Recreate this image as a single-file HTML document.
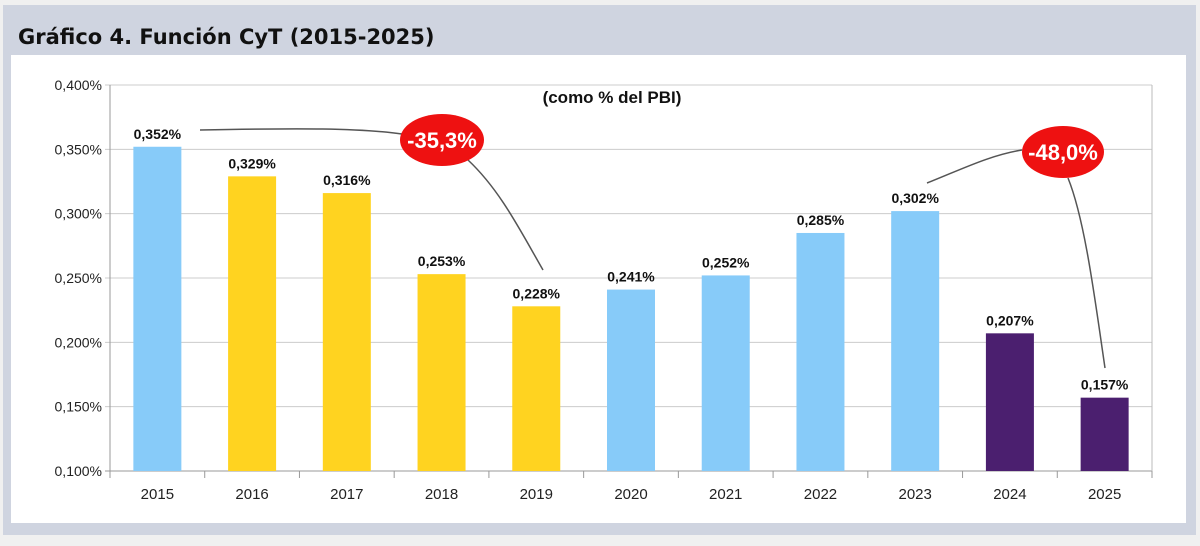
<!DOCTYPE html>
<html><head><meta charset="utf-8"><style>
body{margin:0;width:1200px;height:541px;background:#f0f0f0;overflow:hidden;font-family:"Liberation Sans",Arial,sans-serif}
</style></head><body>
<svg width="1200" height="541">
<rect x="3" y="5" width="1193" height="530" fill="#cfd4e0"/>
<text x="18" y="44" font-family="DejaVu Sans, sans-serif" font-size="21" font-weight="bold" fill="#111">Gráfico 4. Función CyT (2015-2025)</text>
<rect x="11" y="55" width="1175" height="468" fill="#fff"/>
<g id="grid"></g><g id="bars"></g>
<text x="612" y="103" text-anchor="middle" font-size="17" font-weight="bold" fill="#111">(como % del PBI)</text>
<path d="M200,130 C300,128 360,128 402,134" fill="none" stroke="#555" stroke-width="1.5"/>
<path d="M468,160 C500,190 520,230 543,270" fill="none" stroke="#555" stroke-width="1.5"/>
<path d="M927,183 C960,170 990,155 1022,150" fill="none" stroke="#555" stroke-width="1.5"/>
<path d="M1068,178 C1085,220 1095,300 1105,368" fill="none" stroke="#555" stroke-width="1.5"/>
<ellipse cx="442" cy="140" rx="42" ry="26" fill="#ee1111"/>
<text x="442" y="148" text-anchor="middle" font-size="22" font-weight="bold" fill="#fff">-35,3%</text>
<ellipse cx="1063" cy="152" rx="41" ry="26" fill="#ee1111"/>
<text x="1063" y="160" text-anchor="middle" font-size="22" font-weight="bold" fill="#fff">-48,0%</text>
</svg>
<script>
const categories=["2015","2016","2017","2018","2019","2020","2021","2022","2023","2024","2025"];
const values=[0.352,0.329,0.316,0.253,0.228,0.241,0.252,0.285,0.302,0.207,0.157];
const groups=["a","b","b","b","b","a","a","a","a","c","c"];
const ticks=[0.100,0.150,0.200,0.250,0.300,0.350,0.400];
const colors={a:"#87cbf9",b:"#ffd320",c:"#4b1f6f"};
const X0=110,X1=1152,Y0=471,Y1=85,vmin=0.1,vmax=0.4;
const NS="http://www.w3.org/2000/svg";
const y=v=>Y0-(v-vmin)/(vmax-vmin)*(Y0-Y1);
const step=(X1-X0)/categories.length;
const x=i=>X0+step*(i+0.5);
const fmt=v=>v.toFixed(3).replace(".",",")+"%";
function mk(t,a,p,txt){const e=document.createElementNS(NS,t);for(const k in a)e.setAttribute(k,a[k]);if(txt!==undefined)e.textContent=txt;p.appendChild(e);return e;}
const g=document.getElementById("grid"),b=document.getElementById("bars");
ticks.forEach(t=>{
 const l=mk("line",{x1:X0-5,x2:X1,y1:y(t),y2:y(t),stroke:t===vmin?"#999":"#ccc","stroke-width":1},g);
 
 
 const tx=mk("text",{x:X0-8,y:y(t)+5,"text-anchor":"end","font-size":14,fill:"#222"},g,fmt(t));
 
 
});
const ax=mk("line",{x1:X0,x2:X0,y1:Y1,y2:Y0,stroke:"#999"},g);


const rx=mk("line",{x1:X1,x2:X1,y1:Y1,y2:Y0+7,stroke:"#bbb"},g);


for(let i=0;i<=categories.length;i++){
 const tk=mk("line",{x1:X0+step*i,x2:X0+step*i,y1:Y0,y2:Y0+7,stroke:"#999"},g);
 
 
}
categories.forEach((c,i)=>{
 const r=mk("rect",{x:x(i)-24,width:48,y:y(values[i]),height:Y0-y(values[i]),fill:colors[groups[i]]},b);
 
 
 const lb=mk("text",{x:x(i),y:y(values[i])-8,"text-anchor":"middle","font-size":14,"font-weight":"bold",fill:"#111"},b,fmt(values[i]));
 
 
 const xl=mk("text",{x:x(i),y:499,"text-anchor":"middle","font-size":15,fill:"#222"},b,c);
 
 
});
</script>
</body></html>
